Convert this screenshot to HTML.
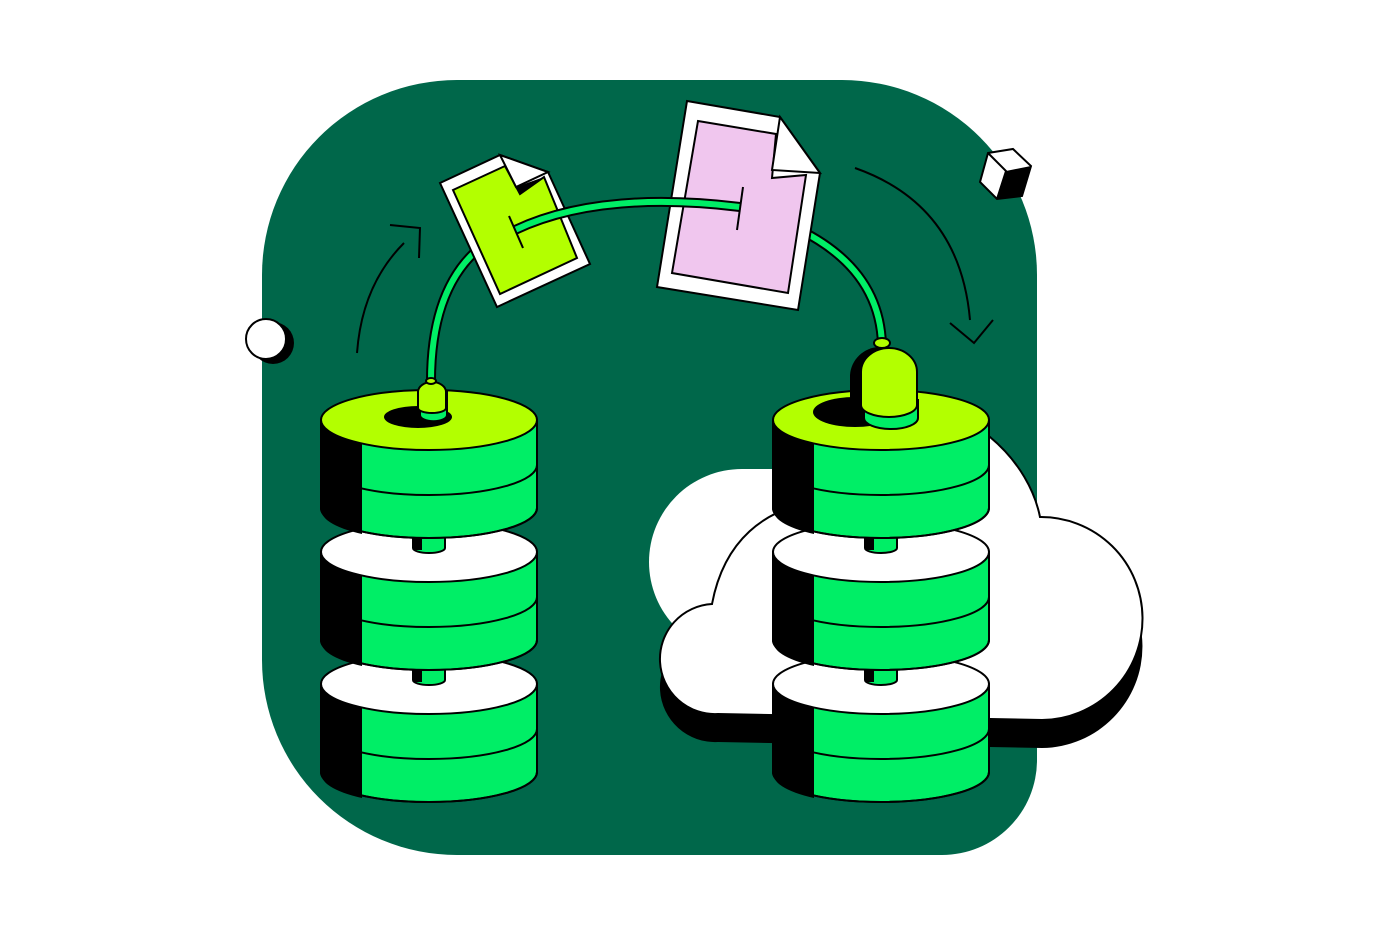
<!DOCTYPE html>
<html><head><meta charset="utf-8"><style>html,body{margin:0;padding:0;background:#fff}svg{display:block}</style></head>
<body>
<svg width="1392" height="936" viewBox="0 0 1392 936" xmlns="http://www.w3.org/2000/svg">
<defs>
<g id="cyl">
  <path d="M-108,0 L-108,88 A108,30 0 0 0 108,88 L108,0 Z" fill="#00EE66" stroke="#000" stroke-width="2"/>
  <path d="M-107,0 L-107,88 A108,30 0 0 0 -67,114 L-67,0 Z" fill="#000"/>
  <path d="M-108,45 A108,30 0 0 0 108,45" fill="none" stroke="#000" stroke-width="2"/>
  <path d="M-108,88 A108,30 0 0 0 108,88" fill="none" stroke="#000" stroke-width="2"/>
</g>
<g id="conn">
  <path d="M-16,0 L-16,12 A16,5 0 0 0 16,12 L16,0 Z" fill="#00EE66" stroke="#000" stroke-width="2"/>
  <rect x="-15" y="0" width="8" height="14" fill="#000"/>
</g>
</defs>
<path d="M457,80 L842,80 A195,195 0 0 1 1037,275 L1037,760 A95,95 0 0 1 942,855 L457,855 A195,195 0 0 1 262,660 L262,275 A195,195 0 0 1 457,80 Z" fill="#00674A"/>
<!-- cloud back white blob -->
<circle cx="742" cy="562" r="93" fill="#fff"/>
<rect x="742" y="469" width="60" height="180" fill="#fff"/>
<!-- cloud shadow -->
<path d="M718,742 A55,55 0 0 1 712,632 C725,560 770,535 800,530 L990,465 C1020,490 1035,520 1040,545 A101.5,101.5 0 0 1 1042,748 Z" fill="#000"/>
<path d="M718,714 A55,55 0 0 1 712,604 C725,535 770,512 800,505 L990,437 C1020,462 1035,492 1040,517 A101.5,101.5 0 0 1 1042,720 Z" fill="#fff" stroke="#000" stroke-width="2"/>
<path d="M357,353 Q362,285 404,243" fill="none" stroke="#000" stroke-width="2"/>
<path d="M390,225 L420,228 L419,258" fill="none" stroke="#000" stroke-width="2"/>
<path d="M855,168 Q960,205 970,320" fill="none" stroke="#000" stroke-width="2"/>
<path d="M950,323 L974,343 L993,320" fill="none" stroke="#000" stroke-width="2"/>
<circle cx="273" cy="343" r="21" fill="#000"/>
<circle cx="266" cy="339" r="20" fill="#fff" stroke="#000" stroke-width="2"/>
<path d="M988,153 L1013,149 L1031,166 L1022,196 L997,199 L980,182 Z" fill="#fff" stroke="#000" stroke-width="2"/>
<path d="M1006,171 L1031,166 L1022,196 L997,199 Z" fill="#000"/>
<path d="M988,153 L1006,171 L997,199" fill="none" stroke="#000" stroke-width="2"/>
<path d="M431,385 Q430,280 490,240" fill="none" stroke="#000" stroke-width="10"/>
<path d="M431,385 Q430,280 490,240" fill="none" stroke="#00EE66" stroke-width="6"/>
<path d="M800,230 Q880,270 882,345" fill="none" stroke="#000" stroke-width="10"/>
<path d="M800,230 Q880,270 882,345" fill="none" stroke="#00EE66" stroke-width="6"/>
<g transform="translate(429,684)"><use href="#cyl"/></g>
<ellipse cx="429" cy="684" rx="108" ry="30" fill="#fff" stroke="#000" stroke-width="2"/>
<g transform="translate(429,668)"><use href="#conn"/></g>
<g transform="translate(429,552)"><use href="#cyl"/></g>
<ellipse cx="429" cy="552" rx="108" ry="30" fill="#fff" stroke="#000" stroke-width="2"/>
<g transform="translate(429,536)"><use href="#conn"/></g>
<g transform="translate(429,420)"><use href="#cyl"/></g>
<ellipse cx="429" cy="420" rx="108" ry="30" fill="#B3FF00" stroke="#000" stroke-width="2"/>
<ellipse cx="418" cy="417" rx="34" ry="11" fill="#000"/>
<path d="M420,392 L420,415 A13,6 0 0 0 447,415 L447,392 Z" fill="#00EE66" stroke="#000" stroke-width="2"/>
<path d="M418,392 A14,10 0 0 1 446,392 L446,408 A14,5 0 0 1 418,408 Z" fill="#B3FF00" stroke="#000" stroke-width="2"/>
<ellipse cx="431" cy="381" rx="5" ry="3" fill="#B3FF00" stroke="#000" stroke-width="2"/>
<g transform="translate(881,684)"><use href="#cyl"/></g>
<ellipse cx="881" cy="684" rx="108" ry="30" fill="#fff" stroke="#000" stroke-width="2"/>
<g transform="translate(881,668)"><use href="#conn"/></g>
<g transform="translate(881,552)"><use href="#cyl"/></g>
<ellipse cx="881" cy="552" rx="108" ry="30" fill="#fff" stroke="#000" stroke-width="2"/>
<g transform="translate(881,536)"><use href="#conn"/></g>
<g transform="translate(881,420)"><use href="#cyl"/></g>
<ellipse cx="881" cy="420" rx="108" ry="30" fill="#B3FF00" stroke="#000" stroke-width="2"/>
<ellipse cx="855" cy="412" rx="42" ry="15" fill="#000"/>
<path d="M864,400 L864,418 A27,11 0 0 0 918,418 L918,400 Z" fill="#00EE66" stroke="#000" stroke-width="2"/>
<path d="M850,375 A30,30 0 0 1 880,347 L880,400 L850,400 Z" fill="#000"/>
<path d="M861,372 A28,24 0 0 1 917,372 L917,405 A28,12 0 0 1 861,405 Z" fill="#B3FF00" stroke="#000" stroke-width="2"/>
<ellipse cx="882" cy="343" rx="8" ry="5" fill="#B3FF00" stroke="#000" stroke-width="2"/>
<path d="M440,183 L500,155 L548,172 L590,264 L497,307 Z" fill="#fff" stroke="#000" stroke-width="2"/>
<path d="M453,190 L505,166 L520,194 L544,177 L577,258 L500,294 Z" fill="#B3FF00" stroke="#000" stroke-width="2"/>
<path d="M500,155 L516,187 L548,172 Z" fill="#fff" stroke="#000" stroke-width="2"/>
<path d="M520,194 L544,177 L516,187 Z" fill="#000"/>
<path d="M687,101 L780,117 L820,173 L798,310 L657,287 Z" fill="#fff" stroke="#000" stroke-width="2"/>
<path d="M698,121 L776,134 L772,178 L806,175 L788,293 L672,273 Z" fill="#F0C6EE" stroke="#000" stroke-width="2"/>
<path d="M780,117 L772,170 L820,173 Z" fill="#fff" stroke="#000" stroke-width="2"/>
<path d="M515,230 Q600,190 740,207" fill="none" stroke="#000" stroke-width="10"/>
<path d="M515,230 Q600,190 740,207" fill="none" stroke="#00EE66" stroke-width="6"/>
<path d="M509,216 L523,248" stroke="#000" stroke-width="2"/>
<path d="M743,187 L737,230" stroke="#000" stroke-width="2"/>
</svg>
</body></html>
